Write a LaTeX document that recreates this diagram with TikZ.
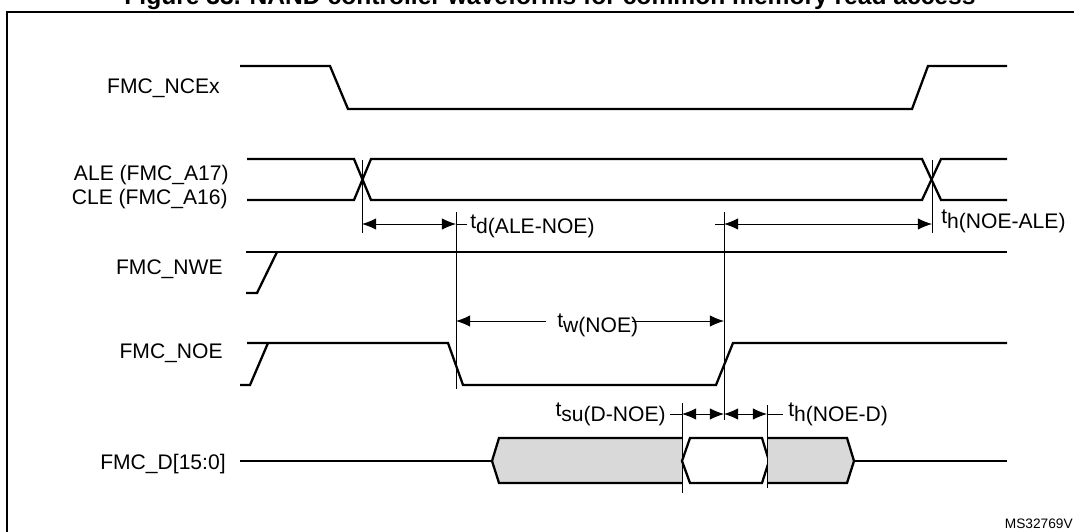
\documentclass[tikz,border=0pt]{standalone}
\usepackage{fontspec}
\setmainfont{Liberation Sans}
\usetikzlibrary{
  calc,
  arrows.meta
}
\tikzset{
>={Latex[length=8pt,width=6.5pt]},
sig/.style={line width=1.3pt},
guide/.style={line width=0.5pt},
tim/.style={line width=0.5pt, <->},
lbl/.style={anchor=base east, inner sep=0pt, font=\fontsize{12}{14}\selectfont},
tlbl/.style={inner sep=0pt, font=\fontsize{12}{14}\selectfont}
}
\newcommand{\tsub}[2]{t\raisebox{-3pt}{#1(#2)}}

\begin{document}
\begin{tikzpicture}[x=0.02cm, y=-0.02cm]
 \useasboundingbox (0,0) rectangle (1074,531);
 \draw[line width=1.1pt] (1090,12) -- (7,12) -- (7,545);
 \node[font=\bfseries\fontsize{14}{16}\selectfont, anchor=base, inner sep=0pt] (title) at (550,4) {Figure 33. NAND controller waveforms for common memory read access};
 % signals
 \node[lbl] (ncex) at (220,93) {FMC\_NCEx};
 \draw[sig] (240,66) -- (330,66) -- (348,109) -- (912,109) -- (928,66) -- (1007,66);
 \node[lbl] (ale) at (229,180) {ALE (FMC\_A17)};
 \node[lbl] (cle) at (228,204) {CLE (FMC\_A16)};
 \draw[sig] (247,159) -- (354,159) -- (371,200) -- (922,200) -- (941,159) -- (1007,159);
 \draw[sig] (247,200) -- (354,200) -- (371,159) -- (922,159) -- (941,200) -- (1007,200);
 \node[lbl] (nwe) at (223,274) {FMC\_NWE};
 \draw[sig] (246,293) -- (257,293) -- (277,252);
 \draw[sig] (246,252) -- (1007,252);
 \node[lbl] (noe) at (223,358) {FMC\_NOE};
 \draw[sig] (240,385) -- (250,385) -- (268,343);
 \draw[sig] (247,343) -- (448,343) -- (463,385) -- (716,385) -- (733,343) -- (1007,343);
 \node[lbl] (data) at (226,469) {FMC\_D[15:0]};
 \draw[sig] (240,461) -- (492,461);
 \draw[sig, fill=gray!30] (682,438) -- (499,438) -- (492,461) -- (499,483) -- (682,483);
 \draw[sig] (682,461) -- (690,438) -- (762,438) -- (769,461) -- (762,483) -- (690,483) -- cycle;
 \draw[sig, fill=gray!30] (767,438) -- (847,438) -- (854,461) -- (847,483) -- (767,483);
 \draw[sig] (854,461) -- (1007,461);
 % guides
 \foreach \x/\ya/\yb in {362/160/233, 456/212/389, 724/212/420, 932/160/233, 682/403/493, 767/405/488}
  \draw[guide] (\x,\ya) -- (\x,\yb);
 % timings
 \coordinate (tdA) at (362,224);
 \coordinate (tdB) at (456,224);
 \draw[tim] (tdA) -- (tdB);
 \draw[guide] (tdB) -- ++(11,0);
 \node[tlbl, anchor=base west] (td) at (470,228) {\tsub{d}{ALE-NOE}};
 \coordinate (thA) at (724,224);
 \coordinate (thB) at (932,224);
 \draw[tim] (thA) -- (thB);
 \draw[guide] (thA) -- ++(-9,0);
 \node[tlbl, anchor=base west] (th) at (941,223) {\tsub{h}{NOE-ALE}};
 \coordinate (twA) at (456,321);
 \coordinate (twB) at (724,321);
 \node[tlbl, anchor=base west] (tw) at (557,327) {\tsub{w}{NOE}};
 \draw[guide, ->] (tw.west |- twA) ++(-11,0) -- (twA);
 \draw[guide, ->] (632,321) -- (twB);
 \coordinate (suA) at (682,414);
 \coordinate (suB) at (724,414);
 \coordinate (suC) at (767,414);
 \draw[tim] (suA) -- (suB);
 \draw[tim] (suB) -- (suC);
 \draw[guide] (suA) -- ++(-12,0);
 \draw[guide] (suC) -- ++(16,0);
 \node[tlbl, anchor=base east] (tsu) at (666,416) {\tsub{su}{D-NOE}};
 \node[tlbl, anchor=base west] (thd) at (788,416) {\tsub{h}{NOE-D}};
 \node[inner sep=0pt, anchor=base east, font=\fontsize{7.8}{9}\selectfont] (code) at (1073,528) {MS32769V};
\end{tikzpicture}
\end{document}
